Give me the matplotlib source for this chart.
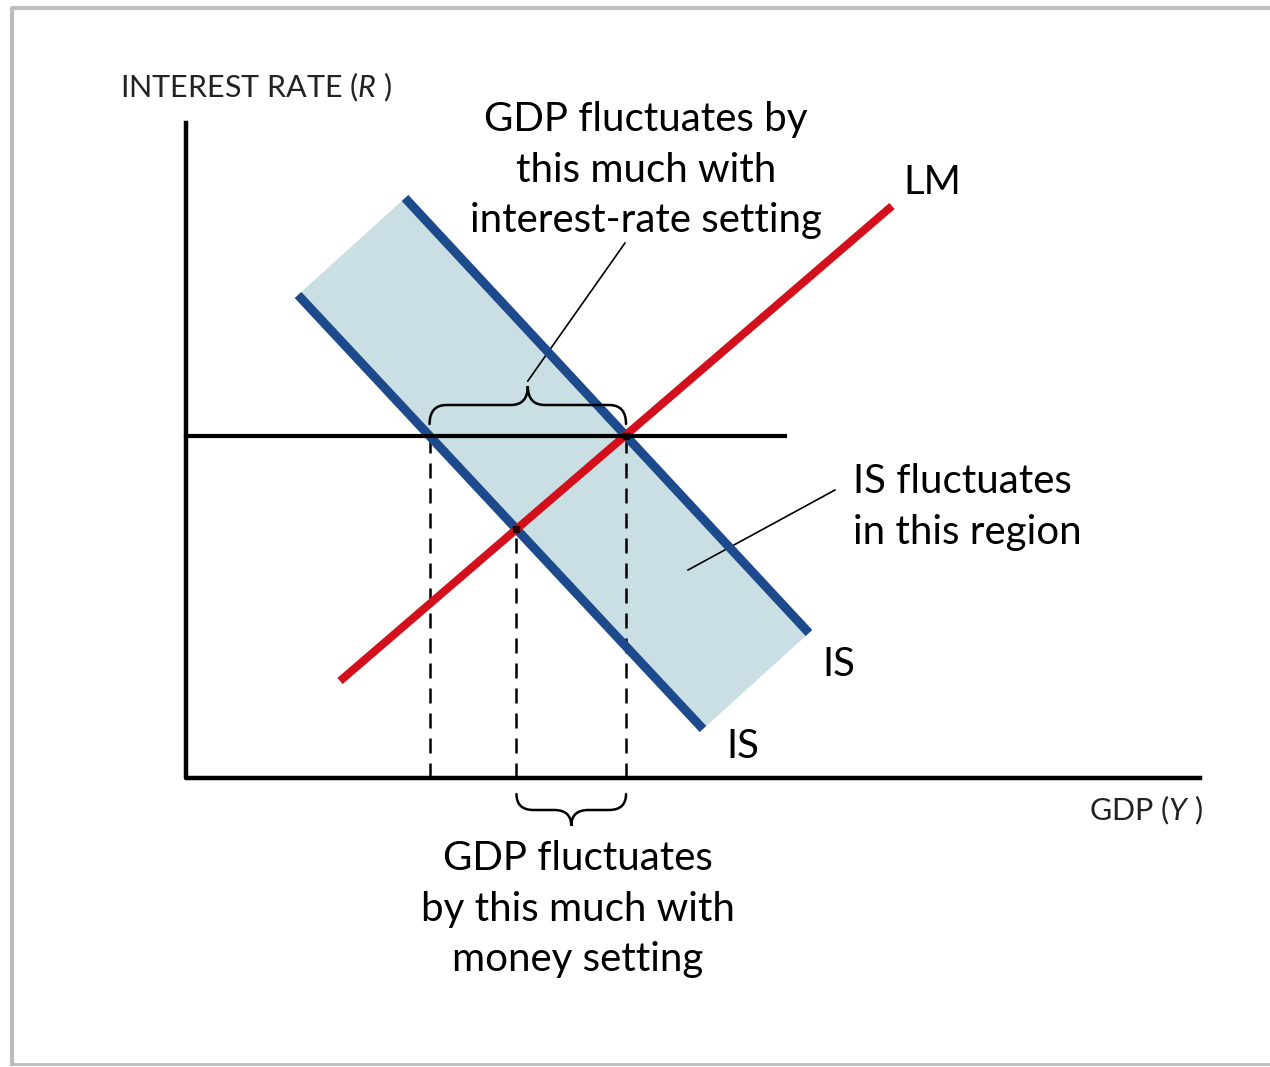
import numpy as np
import matplotlib.pyplot as plt
from matplotlib.path import Path
from matplotlib.patches import PathPatch, Polygon
from matplotlib.lines import Line2D

plt.rcParams['font.family'] = ['Lato', 'DejaVu Sans']
plt.rcParams['mathtext.fontset'] = 'custom'
plt.rcParams['mathtext.rm'] = 'Lato'
plt.rcParams['mathtext.it'] = 'Lato:italic'

# Diagram data (axis corner = origin)
is_low = np.array([[1.12, 4.83], [5.17, 0.49]])    # IS, lower position
is_high = np.array([[2.19, 5.80], [6.23, 1.45]])   # IS, upper position
lm = np.array([[1.54, 0.97], [7.06, 5.72]])        # LM curve
rate_level = 3.42                                  # interest-rate setting
rate_line_end = 5.99
y_axis_top = 6.55
x_axis_end = 10.14

BLUE = '#1d4a8c'
RED = '#d40f1c'
FILL = '#c9dfe3'


def line_at_y(seg, y):
    (x0, y0), (x1, y1) = seg
    return x0 + (y - y0) * (x1 - x0) / (y1 - y0)


def intersect(a, b):
    ma = (a[1, 1] - a[0, 1]) / (a[1, 0] - a[0, 0])
    mb = (b[1, 1] - b[0, 1]) / (b[1, 0] - b[0, 0])
    x = (b[0, 1] - a[0, 1] + ma * a[0, 0] - mb * b[0, 0]) / (ma - mb)
    return x, a[0, 1] + ma * (x - a[0, 0])


def brace(ax, x0, x1, y, h, r=0.17):
    # curly brace; ends at y, tip at y+h
    ym = y + h / 2
    xm = (x0 + x1) / 2
    verts = [(x0, y), (x0, ym), (x0 + r, ym), (xm - r, ym), (xm, ym), (xm, y + h),
             (xm, ym), (xm + r, ym), (x1 - r, ym), (x1, ym), (x1, y)]
    codes = [Path.MOVETO, Path.CURVE3, Path.CURVE3, Path.LINETO, Path.CURVE3, Path.CURVE3,
             Path.CURVE3, Path.CURVE3, Path.LINETO, Path.CURVE3, Path.CURVE3]
    ax.add_patch(PathPatch(Path(verts, codes), fill=False, lw=1.8, color='black',
                           capstyle='round', zorder=6))


fig = plt.figure(figsize=(12.7, 10.67), dpi=100)
ax = fig.add_axes([0, 0, 1, 1])
ax.set_xlim(-1.86, 10.84)
ax.set_ylim(-2.89, 7.78)
ax.axis('off')

# frame
fig.add_artist(Line2D([12 / 1270, 12 / 1270, 1.01], [1 - 1064 / 1067, 1 - 8 / 1067, 1 - 8 / 1067],
                      transform=fig.transFigure, color='#bdbdbd', lw=3))
fig.add_artist(Line2D([12 / 1270, 1.01], [1 - 1064 / 1067] * 2,
                      transform=fig.transFigure, color='#bdbdbd', lw=2))

# shaded IS region
ax.add_patch(Polygon([is_low[0], is_high[0], is_high[1], is_low[1]], closed=True,
                     facecolor=FILL, edgecolor='none', zorder=1))

# intersections
x_a = line_at_y(is_low, rate_level)
x_c = line_at_y(is_high, rate_level)
x_b, y_b = intersect(is_low, lm)

for x, ytop in [(x_a, rate_level), (x_b, y_b), (x_c, rate_level)]:
    ax.plot([x, x], [0, ytop], color='black', lw=1.8, ls=(0, (6, 4)), zorder=2)

ax.plot(is_low[:, 0], is_low[:, 1], color=BLUE, lw=6.5, solid_capstyle='butt', zorder=3)
ax.plot(is_high[:, 0], is_high[:, 1], color=BLUE, lw=6.5, solid_capstyle='butt', zorder=3)
ax.plot(lm[:, 0], lm[:, 1], color=RED, lw=5.8, solid_capstyle='butt', zorder=4)
ax.plot([x_b, x_c], [y_b, rate_level], 's', color='#220000', ms=5, zorder=5)

# axes and rate line
ax.plot([0, 0, x_axis_end], [y_axis_top, 0, 0], color='black', lw=3.2, zorder=5)
ax.plot([0, rate_line_end], [rate_level, rate_level], color='black', lw=3, zorder=5)

# braces
brace(ax, x_a, x_c, rate_level + 0.12, 0.38)
brace(ax, x_b, x_c, -0.16, -0.32)

# leaders
ax.plot([(x_a + x_c) / 2, 4.39], [rate_level + 0.55, 5.35], color='black', lw=1.2)
ax.plot([5.02, 6.49], [2.08, 2.88], color='black', lw=1.2)

fs = 29
ax.text(-0.66, 6.91, 'INTEREST RATE ($R$ )', fontsize=22, va='center', ha='left', color='#222222')
ax.text(10.17, -0.32, 'GDP ($Y$ )', fontsize=22, va='center', ha='right', color='#222222')
ax.text(4.60, 6.08, 'GDP fluctuates by\nthis much with\ninterest-rate setting', fontsize=fs,
        ha='center', va='center', linespacing=1.44)
ax.text(3.92, -1.31, 'GDP fluctuates\nby this much with\nmoney setting', fontsize=fs,
        ha='center', va='center', linespacing=1.44)
ax.text(6.67, 2.71, 'IS fluctuates\nin this region', fontsize=fs, ha='left', va='center',
        linespacing=1.44)
ax.text(7.17, 5.95, 'LM', fontsize=fs, ha='left', va='center')
ax.text(6.36, 1.13, 'IS', fontsize=fs, ha='left', va='center')
ax.text(5.40, 0.32, 'IS', fontsize=fs, ha='left', va='center')

fig.savefig('out.png', dpi=100)
